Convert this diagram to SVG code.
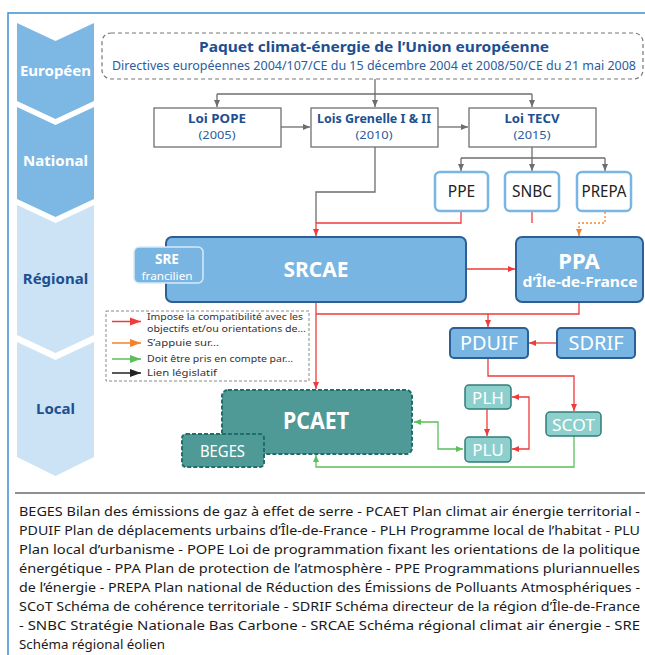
<svg xmlns="http://www.w3.org/2000/svg" width="645" height="655" viewBox="0 0 645 655">
<defs>
<marker id="ag" markerUnits="userSpaceOnUse" markerWidth="8" markerHeight="8" viewBox="0 0 8 8" refX="7" refY="4" orient="auto"><path d="M0,1 L7,4 L0,7 z" fill="#6d6d6d"/></marker>
<marker id="ar" markerUnits="userSpaceOnUse" markerWidth="8" markerHeight="8" viewBox="0 0 8 8" refX="7" refY="4" orient="auto-start-reverse"><path d="M0,1 L7,4 L0,7 z" fill="#ee3b3b"/></marker>
<marker id="ao" markerUnits="userSpaceOnUse" markerWidth="8" markerHeight="8" viewBox="0 0 8 8" refX="7" refY="4" orient="auto"><path d="M0,1 L7,4 L0,7 z" fill="#f5822a"/></marker>
<marker id="agr" markerUnits="userSpaceOnUse" markerWidth="8" markerHeight="8" viewBox="0 0 8 8" refX="7" refY="4" orient="auto-start-reverse"><path d="M0,1 L7,4 L0,7 z" fill="#5cbf5c"/></marker>
<marker id="Lr" markerUnits="userSpaceOnUse" markerWidth="12" markerHeight="10" viewBox="0 0 12 10" refX="11" refY="5" orient="auto"><path d="M0,1 L11,5 L0,9 z" fill="#ee3b3b"/></marker>
<marker id="Lo" markerUnits="userSpaceOnUse" markerWidth="12" markerHeight="10" viewBox="0 0 12 10" refX="11" refY="5" orient="auto"><path d="M0,1 L11,5 L0,9 z" fill="#f5822a"/></marker>
<marker id="Lg" markerUnits="userSpaceOnUse" markerWidth="12" markerHeight="10" viewBox="0 0 12 10" refX="11" refY="5" orient="auto"><path d="M0,1 L11,5 L0,9 z" fill="#5cbf5c"/></marker>
<marker id="Lb" markerUnits="userSpaceOnUse" markerWidth="12" markerHeight="10" viewBox="0 0 12 10" refX="11" refY="5" orient="auto"><path d="M0,1 L11,5 L0,9 z" fill="#222"/></marker>
</defs>
<style>
text{font-family:"Noto Sans","Open Sans","DejaVu Sans",sans-serif}
.lvl{font-weight:bold;font-size:15px;text-anchor:middle}
.law{fill:#fff;stroke:#707070;stroke-width:1.3}
.lawt{font-weight:bold;font-size:12px;fill:#1d4f91;text-anchor:middle}
.lawy{font-size:11px;fill:#2a5ca0;text-anchor:middle}
.nat{fill:#fff;stroke:#7ab6e3;stroke-width:2.5}
.natt{font-size:15.5px;fill:#222;text-anchor:middle}
.reg{fill:#79b5e3;stroke:#2b5f95;stroke-width:2}
.wb{fill:#fff;font-weight:bold;text-anchor:middle}
.wr{fill:#fff;text-anchor:middle}
.loc{fill:#4f9a96;stroke:#1f6e69;stroke-width:2;stroke-dasharray:4,2}
.lt{fill:#8ccfcc;stroke:#2f7d78;stroke-width:1.5}
.cg{fill:none;stroke:#6d6d6d;stroke-width:1.3}
.cr{fill:none;stroke:#ee3b3b;stroke-width:1.3}
.co{fill:none;stroke:#f5822a;stroke-width:1.3;stroke-dasharray:2,2}
.cgr{fill:none;stroke:#5cbf5c;stroke-width:1.3}
.leg{font-size:9.5px;fill:#333}
.foot{font-size:13.3px;fill:#1a1a1a}
</style>
<rect width="645" height="655" fill="#fff"/>
<path d="M8,655 V13 H645" fill="none" stroke="#3b8fd8" stroke-width="1.5"/>

<g id="levels">
<polygon points="17,23 55.5,41 94,23 94,101 55.5,119 17,101" fill="#7db8e5"/>
<polygon points="17,107 55.5,125 94,107 94,199 55.5,217 17,199" fill="#7db8e5"/>
<polygon points="17,205 55.5,223 94,205 94,335 55.5,353 17,335" fill="#cbe3f5"/>
<polygon points="17,342 55.5,360 94,342 94,457 55.5,476 17,457" fill="#cbe3f5"/>
<text class="lvl" x="55.5" y="76" fill="#fff">Européen</text>
<text class="lvl" x="55.5" y="166" fill="#fff">National</text>
<text class="lvl" x="55.5" y="284" fill="#1d4f91">Régional</text>
<text class="lvl" x="55.5" y="414" fill="#1d4f91">Local</text>
</g>

<g id="connectors">
<path class="cg" d="M375,79 V94"/>
<path class="cg" d="M217,94 H532"/>
<path class="cg" d="M217,94 V107" marker-end="url(#ag)"/>
<path class="cg" d="M375,94 V107" marker-end="url(#ag)"/>
<path class="cg" d="M532,94 V107" marker-end="url(#ag)"/>
<path class="cg" d="M281,127 H310" marker-end="url(#ag)"/>
<path class="cg" d="M438,127 H468" marker-end="url(#ag)"/>
<path class="cg" d="M532,147 V158"/>
<path class="cg" d="M461,158 H605"/>
<path class="cg" d="M461,158 V171" marker-end="url(#ag)"/>
<path class="cg" d="M532,158 V171" marker-end="url(#ag)"/>
<path class="cg" d="M605,158 V171" marker-end="url(#ag)"/>
<path class="cg" d="M375,147 V192 H316 V223"/>
<path class="cr" d="M461,212 V223 H316"/>
<path class="cr" d="M532,212 V223"/>
<path class="cr" d="M316,223 V236" marker-end="url(#ar)"/>
<path class="co" d="M605,212 V223 H579 V236" marker-end="url(#ao)"/>
<path class="cr" d="M466,269 H515" marker-end="url(#ar)"/>
<path class="cr" d="M316,302 V389" marker-end="url(#ar)"/>
<path class="cr" d="M579,302 V314 H316"/>
<path class="cr" d="M488,314 V327" marker-end="url(#ar)"/>
<path class="cr" d="M557,343 H529" marker-end="url(#ar)"/>
<path class="cr" d="M488,358 V376 H574 V411" marker-end="url(#ar)"/>
<path class="cr" d="M487,409 V436" marker-end="url(#ar)"/>
<path class="cr" d="M512,397 H529 V449 H512" marker-start="url(#ar)" marker-end="url(#ar)"/>
<path class="cgr" d="M574,436 V467 H316 V455" marker-end="url(#agr)"/>
<path class="cgr" d="M414,422 H438 V449 H463" marker-start="url(#agr)" marker-end="url(#agr)"/>
</g>

<g id="header">
<rect x="102" y="33" width="541" height="46" rx="9" fill="#fff" stroke="#777" stroke-width="1.2" stroke-dasharray="4,3"/>
<text x="374" y="52" text-anchor="middle" font-weight="bold" font-size="15px" fill="#1d4f91" textLength="350" lengthAdjust="spacingAndGlyphs">Paquet climat-énergie de l’Union européenne</text>
<text x="374" y="70" text-anchor="middle" font-size="12.5px" fill="#2a5ca0" textLength="524" lengthAdjust="spacingAndGlyphs">Directives européennes 2004/107/CE du 15 décembre 2004 et 2008/50/CE du 21 mai 2008</text>
</g>

<g id="pope">
<rect class="law" x="154" y="108" width="127" height="39"/>
<text class="lawt" x="217" y="123" textLength="58" lengthAdjust="spacingAndGlyphs">Loi POPE</text>
<text class="lawy" x="217" y="139" textLength="37" lengthAdjust="spacingAndGlyphs">(2005)</text>
</g>
<g id="grenelle">
<rect class="law" x="311" y="108" width="127" height="39"/>
<text class="lawt" x="374" y="123" textLength="114" lengthAdjust="spacingAndGlyphs">Lois Grenelle I &amp; II</text>
<text class="lawy" x="374" y="139" textLength="37" lengthAdjust="spacingAndGlyphs">(2010)</text>
</g>
<g id="tecv">
<rect class="law" x="469" y="108" width="127" height="39"/>
<text class="lawt" x="532" y="123" textLength="55" lengthAdjust="spacingAndGlyphs">Loi TECV</text>
<text class="lawy" x="532" y="139" textLength="37" lengthAdjust="spacingAndGlyphs">(2015)</text>
</g>

<g id="ppe"><rect class="nat" x="435" y="172" width="53" height="39" rx="5"/><text class="natt" x="461.5" y="197">PPE</text></g>
<g id="snbc"><rect class="nat" x="505" y="172" width="54" height="39" rx="5"/><text class="natt" x="532" y="197">SNBC</text></g>
<g id="prepa"><rect class="nat" x="577" y="172" width="54" height="39" rx="5"/><text class="natt" x="604" y="197" textLength="45" lengthAdjust="spacingAndGlyphs">PREPA</text></g>

<g id="srcae"><rect class="reg" x="166" y="237" width="300" height="65" rx="6"/><text class="wb" x="316" y="277" font-size="21px">SRCAE</text></g>
<g id="sre"><rect x="134" y="247" width="69" height="36" rx="5" fill="#79b5e3" stroke="#d6eaf8" stroke-width="1.5"/><text class="wb" x="167" y="264" font-size="13.5px">SRE</text><text class="wr" x="167" y="279.5" font-size="11px" textLength="51" lengthAdjust="spacingAndGlyphs">francilien</text></g>
<g id="ppa"><rect class="reg" x="516" y="237" width="127" height="65" rx="6"/><text class="wb" x="579" y="269" font-size="22px">PPA</text><text class="wb" x="580" y="287" font-size="13.5px" textLength="115" lengthAdjust="spacingAndGlyphs">d’Île-de-France</text></g>

<g id="pduif"><rect class="reg" x="450" y="328" width="78" height="30" rx="4" stroke-width="1.5"/><text class="wr" x="489" y="350" font-size="19px" textLength="58" lengthAdjust="spacingAndGlyphs">PDUIF</text></g>
<g id="sdrif"><rect class="reg" x="557" y="328" width="78" height="30" rx="4" stroke-width="1.5"/><text class="wr" x="596" y="350" font-size="19px" textLength="55" lengthAdjust="spacingAndGlyphs">SDRIF</text></g>

<g id="legend">
<rect x="106" y="311" width="203" height="70" fill="none" stroke="#888" stroke-width="1" stroke-dasharray="3,2"/>
<path d="M112,321.5 H141" stroke="#ee3b3b" stroke-width="1.5" marker-end="url(#Lr)"/>
<path d="M112,343 H141" stroke="#f5822a" stroke-width="1.5" marker-end="url(#Lo)"/>
<path d="M112,359 H141" stroke="#5cbf5c" stroke-width="1.5" marker-end="url(#Lg)"/>
<path d="M112,373 H141" stroke="#222" stroke-width="1.5" marker-end="url(#Lb)"/>
<text class="leg" x="147" y="320" textLength="156" lengthAdjust="spacingAndGlyphs">Impose la compatibilité avec les</text>
<text class="leg" x="147" y="332" textLength="159" lengthAdjust="spacingAndGlyphs">objectifs et/ou orientations de…</text>
<text class="leg" x="147" y="346" textLength="72" lengthAdjust="spacingAndGlyphs">S’appuie sur…</text>
<text class="leg" x="147" y="362" textLength="146" lengthAdjust="spacingAndGlyphs">Doit être pris en compte par…</text>
<text class="leg" x="147" y="376" textLength="70" lengthAdjust="spacingAndGlyphs">Lien législatif</text>
</g>

<g id="pcaet"><rect class="loc" x="222" y="390" width="190" height="64" rx="6"/><text class="wb" x="316" y="429" font-size="23px" textLength="66" lengthAdjust="spacingAndGlyphs">PCAET</text></g>
<g id="beges"><rect class="loc" x="182" y="434" width="82" height="33" rx="4"/><text class="wr" x="222.5" y="457" font-size="16px" textLength="45" lengthAdjust="spacingAndGlyphs">BEGES</text></g>
<g id="plh"><rect class="lt" x="465" y="385" width="46" height="24" rx="4"/><text class="wr" x="488" y="404" font-size="17px">PLH</text></g>
<g id="plu"><rect class="lt" x="465" y="437" width="46" height="25" rx="4"/><text class="wr" x="488" y="456" font-size="17px">PLU</text></g>
<g id="scot"><rect class="lt" x="546" y="412" width="55" height="24" rx="4"/><text class="wr" x="573.5" y="431" font-size="17px" textLength="43" lengthAdjust="spacingAndGlyphs">SCOT</text></g>

<g id="glossary">
<path d="M15,493 H645" stroke="#222" stroke-width="1.2"/>
<text class="foot" x="19" y="516" textLength="621" lengthAdjust="spacingAndGlyphs">BEGES Bilan des émissions de gaz à effet de serre - PCAET Plan climat air énergie territorial -</text>
<text class="foot" x="19" y="535" textLength="621" lengthAdjust="spacingAndGlyphs">PDUIF Plan de déplacements urbains d’Île-de-France - PLH Programme local de l’habitat - PLU</text>
<text class="foot" x="19" y="554" textLength="621" lengthAdjust="spacingAndGlyphs">Plan local d’urbanisme - POPE Loi de programmation fixant les orientations de la politique</text>
<text class="foot" x="19" y="573" textLength="621" lengthAdjust="spacingAndGlyphs">énergétique - PPA Plan de protection de l’atmosphère - PPE Programmations pluriannuelles</text>
<text class="foot" x="19" y="592" textLength="621" lengthAdjust="spacingAndGlyphs">de l’énergie - PREPA Plan national de Réduction des Émissions de Polluants Atmosphériques -</text>
<text class="foot" x="19" y="611" textLength="621" lengthAdjust="spacingAndGlyphs">SCoT Schéma de cohérence territoriale - SDRIF Schéma directeur de la région d’Île-de-France</text>
<text class="foot" x="19" y="630" textLength="621" lengthAdjust="spacingAndGlyphs">- SNBC Stratégie Nationale Bas Carbone - SRCAE Schéma régional climat air énergie - SRE</text>
<text class="foot" x="19" y="649" textLength="146" lengthAdjust="spacingAndGlyphs">Schéma régional éolien</text>
</g>
</svg>
